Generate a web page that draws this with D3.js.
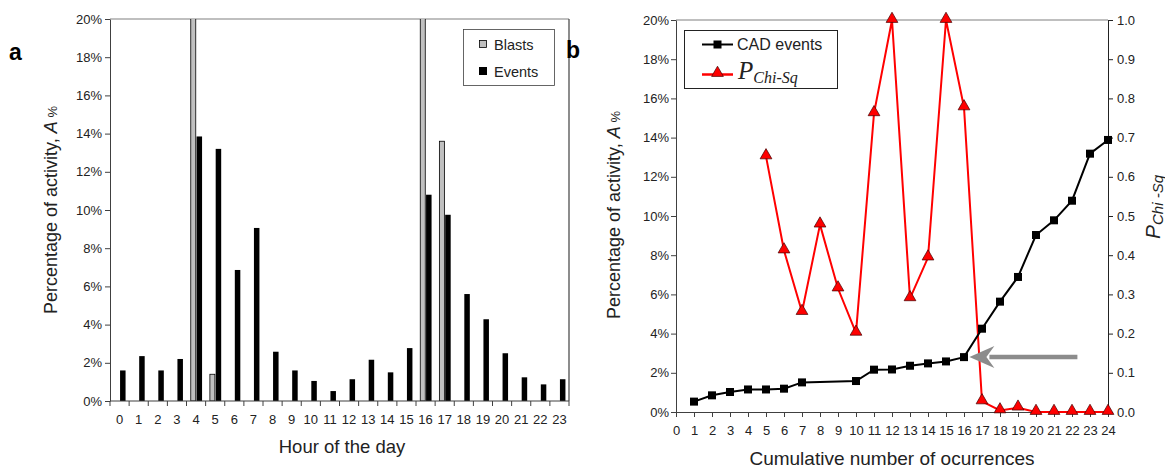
<!DOCTYPE html>
<html><head><meta charset="utf-8">
<script src="https://cdn.jsdelivr.net/npm/d3@7"></script>
<style>
body{margin:0;background:#fff;}
svg text{font-family:"Liberation Sans",Arial,sans-serif;}
</style></head><body>
<svg id="c" width="1165" height="468"></svg>
<script>
// Panel a data
const hours = d3.range(0, 24);
const blasts = [0,0,0,0,24,1.4,0,0,0,0,0,0,0,0,0,0,24,13.6,0,0,0,0,0,0];
const events = [1.6,2.35,1.6,2.2,13.85,13.2,6.86,9.06,2.58,1.6,1.05,0.52,1.14,2.16,1.5,2.77,10.8,9.75,5.6,4.28,2.5,1.24,0.87,1.14];
const pctTicks = [0,2,4,6,8,10,12,14,16,18,20];

// Panel b data
const cadX = [1,2,3,4,5,6,7,10,11,12,13,14,15,16,17,18,19,20,21,22,23,24];
const cadY = [0.53,0.85,1.02,1.15,1.15,1.19,1.51,1.58,2.16,2.17,2.36,2.48,2.58,2.8,4.25,5.63,6.89,9.03,9.78,10.78,13.18,13.88];
const chiX = [5,6,7,8,9,10,11,12,13,14,15,16,17,18,19,20,21,22,23,24];
const chiY = [0.652,0.412,0.255,0.478,0.315,0.202,0.762,1.0,0.29,0.394,1.0,0.777,0.027,0.004,0.011,0,0,0,0,0];
const xTicksB = d3.range(0, 25);
const rTicks = [0,0.1,0.2,0.3,0.4,0.5,0.6,0.7,0.8,0.9,1.0];

const svg = d3.select("#c");
const txt = "#222";

// ================= Panel a =================
const A = {l:110, r:569, t:19, b:401};
const xa = d3.scaleBand().domain(hours).range([A.l, A.r]).padding(0);
const ya = d3.scaleLinear().domain([0,20]).range([A.b, A.t]);

svg.append("clipPath").attr("id","clipA").append("rect")
  .attr("x",A.l).attr("y",A.t).attr("width",A.r-A.l).attr("height",A.b-A.t);

svg.append("line").attr("x1",A.l).attr("x2",A.r).attr("y1",A.t).attr("y2",A.t).attr("stroke","#808080").attr("stroke-width",1.2);
svg.append("line").attr("x1",A.r).attr("x2",A.r).attr("y1",A.t).attr("y2",A.b).attr("stroke","#404040").attr("stroke-width",1.2);

const gA = svg.append("g").attr("clip-path","url(#clipA)");
const bw = 5;
gA.selectAll("rect.bl").data(hours.filter(h=>blasts[h]>0)).join("rect")
  .attr("x", h => xa(h)+xa.bandwidth()/2 - bw - 0.3)
  .attr("y", h => ya(blasts[h]))
  .attr("width", bw).attr("height", h => ya(0)-ya(blasts[h]))
  .attr("fill","#c0c0c0").attr("stroke","#000").attr("stroke-width",0.8);
gA.selectAll("rect.ev").data(hours).join("rect")
  .attr("x", h => xa(h)+xa.bandwidth()/2 + 0.5)
  .attr("y", h => ya(events[h]))
  .attr("width", 5.5).attr("height", h => ya(0)-ya(events[h]))
  .attr("fill","#000");

const yAxA = svg.append("g").attr("transform",`translate(${A.l},0)`)
  .call(d3.axisLeft(ya).tickValues(pctTicks).tickFormat(d=>d+"%").tickSize(5).tickSizeOuter(0));
yAxA.select(".domain").attr("stroke","#404040");
yAxA.selectAll(".tick line").attr("stroke","#404040");
yAxA.selectAll("text").attr("font-size",13).attr("fill",txt).attr("x",-8);

const xAxA = svg.append("g").attr("transform",`translate(0,${A.b})`);
xAxA.append("line").attr("x1",A.l).attr("x2",A.r).attr("stroke","#404040").attr("stroke-width",1.2);
xAxA.selectAll("line.tk").data(d3.range(0,25)).join("line")
  .attr("x1", i => A.l + i*xa.bandwidth()).attr("x2", i => A.l + i*xa.bandwidth())
  .attr("y1",0).attr("y2",5).attr("stroke","#404040");
xAxA.selectAll("text").data(hours).join("text")
  .attr("x", h => xa(h)+xa.bandwidth()/2).attr("y",23)
  .attr("text-anchor","middle").attr("font-size",13).attr("fill",txt).text(h=>h);

svg.append("text").attr("x",342).attr("y",453).attr("text-anchor","middle")
  .attr("font-size",18.5).attr("fill",txt).text("Hour of the day");
const ytA = svg.append("text").attr("transform","translate(57,210) rotate(-90)")
  .attr("text-anchor","middle").attr("font-size",18).attr("fill",txt);
ytA.append("tspan").text("Percentage of activity, ");
ytA.append("tspan").attr("font-style","italic").text("A");
ytA.append("tspan").attr("font-size",13).text(" %");

svg.append("text").attr("x",9).attr("y",60).attr("font-size",23).attr("font-weight","bold").attr("fill","#000").text("a");

const lgA = svg.append("g");
lgA.append("rect").attr("x",463.5).attr("y",29.5).attr("width",91).attr("height",56)
  .attr("fill","#fff").attr("stroke","#404040").attr("stroke-width",0.8);
lgA.append("rect").attr("x",479.5).attr("y",40.5).attr("width",7).attr("height",7).attr("fill","#c0c0c0").attr("stroke","#000").attr("stroke-width",0.8);
lgA.append("text").attr("x",494).attr("y",49.5).attr("font-size",14.5).attr("fill",txt).text("Blasts");
lgA.append("rect").attr("x",479).attr("y",67).attr("width",8).attr("height",8).attr("fill","#000");
lgA.append("text").attr("x",494).attr("y",76.5).attr("font-size",14.5).attr("fill",txt).text("Events");

// ================= Panel b =================
const B = {l:676, r:1108, t:20, b:412};
const xb = d3.scaleLinear().domain([0,24]).range([B.l, B.r]);
const yb = d3.scaleLinear().domain([0,20]).range([B.b, B.t]);
const yr = d3.scaleLinear().domain([0,1]).range([B.b, B.t]);

svg.append("line").attr("x1",B.l).attr("x2",B.r).attr("y1",B.t).attr("y2",B.t).attr("stroke","#808080").attr("stroke-width",1.2);

const yAxB = svg.append("g").attr("transform",`translate(${B.l},0)`)
  .call(d3.axisLeft(yb).tickValues(pctTicks).tickFormat(d=>d+"%").tickSize(5).tickSizeOuter(0));
yAxB.select(".domain").attr("stroke","#404040");
yAxB.selectAll(".tick line").attr("stroke","#404040");
yAxB.selectAll("text").attr("font-size",13).attr("fill",txt).attr("x",-7);

const yAxR = svg.append("g").attr("transform",`translate(${B.r},0)`)
  .call(d3.axisRight(yr).tickValues(rTicks).tickFormat(d3.format(".1f")).tickSize(5).tickSizeOuter(0));
yAxR.select(".domain").attr("stroke","#222");
yAxR.selectAll(".tick line").attr("stroke","#222");
yAxR.selectAll("text").attr("font-size",13).attr("fill",txt).attr("x",9);

const xAxB = svg.append("g").attr("transform",`translate(0,${B.b})`)
  .call(d3.axisBottom(xb).tickValues(xTicksB).tickFormat(d=>d).tickSize(5).tickSizeOuter(0));
xAxB.select(".domain").attr("stroke","#404040");
xAxB.selectAll(".tick line").attr("stroke","#404040");
xAxB.selectAll("text").attr("font-size",13).attr("fill",txt).attr("y",14);

const lineR = d3.line().x((d,i)=>xb(chiX[i])).y((d,i)=>yr(chiY[i]));
svg.append("path").datum(chiY).attr("d",lineR).attr("fill","none").attr("stroke","#ff0000").attr("stroke-width",2);
const tri = d3.symbol().type(d3.symbolTriangle).size(60);
svg.selectAll("path.tri").data(chiY).join("path")
  .attr("transform",(d,i)=>`translate(${xb(chiX[i])},${yr(d)-1})`)
  .attr("d",tri).attr("fill","#ff0000").attr("stroke","#400000").attr("stroke-width",0.7);

const lineL = d3.line().x((d,i)=>xb(cadX[i])).y((d,i)=>yb(cadY[i]));
svg.append("path").datum(cadY).attr("d",lineL).attr("fill","none").attr("stroke","#000").attr("stroke-width",2);
svg.selectAll("rect.sq").data(cadY).join("rect")
  .attr("x",(d,i)=>xb(cadX[i])-4).attr("y",d=>yb(d)-4).attr("width",8).attr("height",8).attr("fill","#000");

const ax0 = xb(22.3), ax1 = xb(16.3), ay = yb(2.8);
svg.append("line").attr("x1",ax0).attr("x2",ax1+20).attr("y1",ay).attr("y2",ay).attr("stroke","#8c8c8c").attr("stroke-width",4.5);
svg.append("path").attr("d",`M${ax1},${ay} L${ax1+25},${ay-11} L${ax1+17},${ay} L${ax1+25},${ay+11} Z`).attr("fill","#8c8c8c");

svg.append("text").attr("x",892).attr("y",465).attr("text-anchor","middle")
  .attr("font-size",19).attr("fill",txt).text("Cumulative number of ocurrences");
const ytB = svg.append("text").attr("transform","translate(620,215) rotate(-90)")
  .attr("text-anchor","middle").attr("font-size",18).attr("fill",txt);
ytB.append("tspan").text("Percentage of activity, ");
ytB.append("tspan").attr("font-style","italic").text("A");
ytB.append("tspan").attr("font-size",13).text(" %");
const ytR = svg.append("text").attr("transform","translate(1160,207) rotate(-90)")
  .attr("text-anchor","middle").attr("font-style","italic").attr("fill",txt);
ytR.append("tspan").attr("font-size",21).text("P");
ytR.append("tspan").attr("font-size",15).attr("dy",3).text("Chi -Sq");

svg.append("text").attr("x",566).attr("y",58).attr("font-size",23).attr("font-weight","bold").attr("fill","#000").text("b");

const lgB = svg.append("g");
lgB.append("rect").attr("x",684.5).attr("y",30.5).attr("width",153).attr("height",58)
  .attr("fill","#fff").attr("stroke","#222").attr("stroke-width",1);
lgB.append("line").attr("x1",702).attr("x2",733).attr("y1",44.5).attr("y2",44.5).attr("stroke","#000").attr("stroke-width",2);
lgB.append("rect").attr("x",713.5).attr("y",40.5).attr("width",8).attr("height",8).attr("fill","#000");
lgB.append("text").attr("x",737).attr("y",50).attr("font-size",16).attr("fill",txt).text("CAD events");
lgB.append("line").attr("x1",702).attr("x2",733).attr("y1",74.5).attr("y2",74.5).attr("stroke","#ff0000").attr("stroke-width",2.5);
lgB.append("path").attr("transform","translate(717.5,73)").attr("d",tri).attr("fill","#ff0000").attr("stroke","#400000").attr("stroke-width",0.7);
const lt = lgB.append("text").attr("x",738).attr("y",79).attr("fill",txt)
  .attr("font-family","'Liberation Serif','Times New Roman',serif").attr("font-style","italic");
lt.append("tspan").attr("font-size",25).attr("font-family","'Liberation Serif','Times New Roman',serif").text("P");
lt.append("tspan").attr("font-size",16).attr("dy",4).attr("font-family","'Liberation Serif','Times New Roman',serif").text("Chi-Sq");
</script>
</body></html>
